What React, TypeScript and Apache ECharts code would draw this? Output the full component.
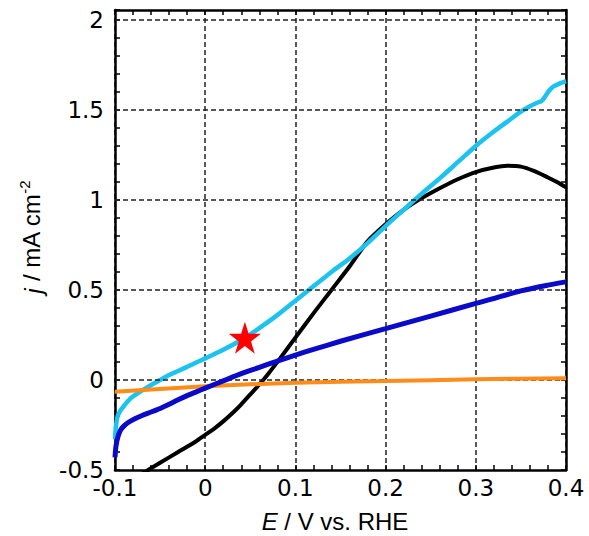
import React, { useEffect, useRef } from "react";
import * as echarts from "echarts";

// ---- Data (E in V vs. RHE, j in mA cm^-2) ----
const E_CYAN = [-0.1, -0.099, -0.097, -0.094, -0.091, -0.086, -0.081, -0.072, -0.064, -0.05, -0.04, -0.03, -0.02, -0.01, 0, 0.02, 0.04, 0.06, 0.08, 0.1, 0.12, 0.14, 0.16, 0.18, 0.2, 0.22, 0.24, 0.26, 0.28, 0.3, 0.32, 0.335, 0.35, 0.36, 0.368, 0.373, 0.377, 0.381, 0.386, 0.392, 0.4];
const J_CYAN = [-0.33, -0.26, -0.2, -0.17, -0.15, -0.12, -0.095, -0.065, -0.04, 0, 0.028, 0.05, 0.073, 0.097, 0.12, 0.168, 0.222, 0.288, 0.36, 0.44, 0.52, 0.6, 0.675, 0.76, 0.855, 0.945, 1.035, 1.12, 1.21, 1.3, 1.38, 1.435, 1.49, 1.52, 1.54, 1.55, 1.575, 1.605, 1.63, 1.645, 1.66];

const E_BLUE = [-0.1, -0.099, -0.097, -0.094, -0.09, -0.085, -0.078, -0.07, -0.06, -0.05, -0.04, -0.03, -0.02, -0.01, 0, 0.02, 0.04, 0.06, 0.08, 0.1, 0.12, 0.15, 0.2, 0.25, 0.3, 0.35, 0.38, 0.4];
const J_BLUE = [-0.43, -0.37, -0.32, -0.28, -0.255, -0.235, -0.215, -0.197, -0.178, -0.158, -0.135, -0.11, -0.087, -0.066, -0.045, -0.005, 0.035, 0.07, 0.105, 0.138, 0.17, 0.215, 0.285, 0.355, 0.425, 0.495, 0.527, 0.545];

const E_BLACK = [-0.07, -0.05, -0.03, -0.01, 0, 0.01, 0.02, 0.03, 0.04, 0.05, 0.06, 0.07, 0.083, 0.1, 0.12, 0.14, 0.16, 0.18, 0.2, 0.22, 0.24, 0.26, 0.28, 0.3, 0.32, 0.335, 0.35, 0.365, 0.38, 0.39, 0.4];
const J_BLACK = [-0.52, -0.46, -0.4, -0.34, -0.305, -0.27, -0.23, -0.185, -0.135, -0.08, -0.025, 0.035, 0.12, 0.235, 0.37, 0.5, 0.63, 0.77, 0.865, 0.945, 1.01, 1.065, 1.115, 1.155, 1.18, 1.19, 1.185, 1.16, 1.125, 1.1, 1.07];

const E_ORANGE = [-0.1, 0, 0.1, 0.2, 0.3, 0.4];
const J_ORANGE = [-0.065, -0.035, -0.015, -0.006, 0.004, 0.01];

const STAR_POINT = [0.044, 0.235];

const X_MIN = -0.1;
const X_MAX = 0.4;
const Y_MIN = -0.5;
const Y_MAX = 2.055;
const Y_GRID = [0, 0.5, 1, 1.5, 2];

const zip = (xs: number[], ys: number[]) => xs.map((x, i) => [x, ys[i]]);

const STAR_PATH =
  "path://M50,0 L61.2,34.5 L97.6,34.5 L68.2,55.9 L79.4,90.5 L50,69.1 L20.6,90.5 L31.8,55.9 L2.4,34.5 L38.8,34.5 Z";

const TICK_FONT = "DejaVu Sans";
const TITLE_FONT = "Liberation Sans";

export default function App() {
  const ref = useRef<HTMLDivElement>(null);

  useEffect(() => {
    if (!ref.current) return;
    const chart = echarts.init(ref.current, undefined, { renderer: "svg" });

    const axisLine = { show: true, onZero: false, lineStyle: { color: "#000", width: 2.5 } };
    const tickStyle = { color: "#000", width: 1.5 };
    const dashStyle = { type: [5, 3] as any, color: "#222", width: 1.5 };

    const xBase = {
      type: "value",
      min: X_MIN,
      max: X_MAX,
      interval: 0.1,
      axisLine,
      axisTick: { show: true, inside: true, length: 5, lineStyle: tickStyle },
      minorTick: { show: true, splitNumber: 5, length: 5, lineStyle: tickStyle },
    };
    const yBase = {
      type: "value",
      min: Y_MIN,
      max: Y_MAX,
      interval: 0.1,
      axisLine,
      axisTick: { show: true, inside: true, length: 5, lineStyle: tickStyle },
      splitLine: { show: false },
    };

    chart.setOption({
      animation: false,
      backgroundColor: "#fff",
      grid: { left: 115, right: 23, top: 10, bottom: 66, containLabel: false },
      xAxis: [
        {
          ...xBase,
          position: "bottom",
          axisLabel: {
            show: true,
            fontFamily: TICK_FONT,
            fontSize: 23,
            color: "#000",
            margin: 6,
            formatter: (v: number) => String(Math.round(v * 10) / 10),
          },
          splitLine: { show: true, lineStyle: dashStyle },
        },
        {
          ...xBase,
          position: "top",
          axisLabel: { show: false },
          splitLine: { show: false },
        },
      ],
      yAxis: [
        {
          ...yBase,
          position: "left",
          axisLabel: {
            show: true,
            fontFamily: TICK_FONT,
            fontSize: 23,
            color: "#000",
            margin: 11,
            formatter: (v: number) => {
              const r = Math.round(v * 2) / 2;
              if (Math.abs(v - r) > 1e-6) return "";
              return String(r);
            },
          },
        },
        {
          ...yBase,
          position: "right",
          axisLabel: { show: false },
        },
      ],
      series: [
        {
          type: "line",
          data: [],
          z: 1,
          silent: true,
          markLine: {
            silent: true,
            symbol: "none",
            animation: false,
            label: { show: false },
            lineStyle: dashStyle,
            emphasis: { disabled: true },
            data: Y_GRID.map((v) => ({ yAxis: v })),
          },
        },
        {
          name: "black",
          type: "line",
          data: zip(E_BLACK, J_BLACK),
          showSymbol: false,
          smooth: 0.25,
          z: 3,
          lineStyle: { color: "#000", width: 4 },
        },
        {
          name: "cyan",
          type: "line",
          data: zip(E_CYAN, J_CYAN),
          showSymbol: false,
          smooth: 0.25,
          z: 4,
          lineStyle: { color: "#1CC2F0", width: 4.5 },
        },
        {
          name: "orange",
          type: "line",
          data: zip(E_ORANGE, J_ORANGE),
          showSymbol: false,
          smooth: 0.25,
          z: 5,
          lineStyle: { color: "#FF8C1A", width: 4 },
        },
        {
          name: "blue",
          type: "line",
          data: zip(E_BLUE, J_BLUE),
          showSymbol: false,
          smooth: 0.25,
          z: 6,
          lineStyle: { color: "#0A0AC8", width: 5 },
        },
        {
          name: "star",
          type: "scatter",
          data: [STAR_POINT],
          symbol: STAR_PATH,
          symbolSize: 32,
          z: 10,
          itemStyle: { color: "#FF0000", opacity: 1 },
        },
      ],
      graphic: [
        {
          type: "text",
          x: 335,
          y: 521,
          style: {
            text: "{i|E} / V vs. RHE",
            fontFamily: TITLE_FONT,
            fontSize: 24,
            fill: "#000",
            align: "center",
            verticalAlign: "middle",
            rich: {
              i: { fontFamily: TITLE_FONT, fontSize: 24, fontStyle: "italic", fill: "#000" },
            },
          },
        },
        {
          type: "text",
          x: 31,
          y: 237,
          rotation: Math.PI / 2,
          style: {
            text: "{i|j} / mA cm{sup|-2}",
            fontFamily: TITLE_FONT,
            fontSize: 24,
            fill: "#000",
            align: "center",
            verticalAlign: "middle",
            rich: {
              i: { fontFamily: TITLE_FONT, fontSize: 24, fontStyle: "italic", fill: "#000", lineHeight: 28, verticalAlign: "bottom" },
              sup: { fontFamily: TITLE_FONT, fontSize: 15, fill: "#000", lineHeight: 28, verticalAlign: "top" },
            },
          },
        },
      ],
    });

    return () => chart.dispose();
  }, []);

  return (
    <div
      ref={ref}
      style={{ position: "absolute", left: 0, top: 0, width: 589, height: 536, background: "#fff" }}
    />
  );
}
